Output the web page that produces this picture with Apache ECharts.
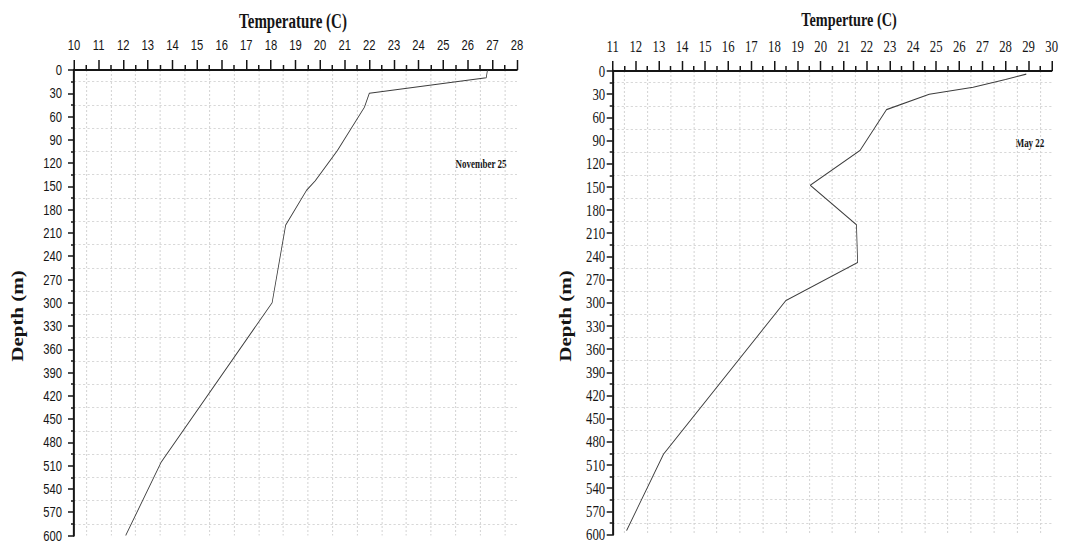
<!DOCTYPE html>
<html>
<head>
<meta charset="utf-8">
<script src="https://cdn.jsdelivr.net/npm/echarts@6/dist/echarts.min.js"></script>
<style>
  html, body { margin: 0; padding: 0; background: #fff; overflow: hidden; width: 1081px; height: 543px; }
  /* the figure is drawn wide and condensed horizontally, like the printed plot */
  #stage { position: absolute; left: 0; top: 0; width: 1442px; height: 543px; transform: scaleX(0.75); transform-origin: 0 0; }
</style>
</head>
<body>
<div id="stage"></div>
<script>
// November 25 temperature profile (temperature in C, depth in m)
const novTemp  = [26.8, 26.75, 22.0, 21.8, 20.7, 19.8, 19.45, 18.6, 18.05, 13.55, 12.1];
const novDepth = [0,    10,    30,   48,   104,  143,  155,   200,  300,   505,   600];

// May 22 temperature profile
const mayTemp  = [28.9, 28.0, 26.6, 24.7, 22.85, 21.7, 19.55, 21.55, 21.6, 18.5, 13.2, 11.6];
const mayDepth = [4,    11,   21,   30,   50,    103,  148,   199,   248,  297,  496,  595];

// axis ranges
const novTempRange = [10, 28];
const mayTempRange = [11, 30];
const depthRange   = [0, 600];
const depthStep    = 30;

// text
const novAxisTitle = 'Temperature (C)';
const mayAxisTitle = 'Temperture (C)';
const depthTitle   = 'Depth (m)';
const novTag = 'November 25';
const mayTag = 'May 22';

const K = 0.75; // horizontal condensation of the stage
const sx = v => v / K;

const SANS = '"Liberation Sans", Arial, sans-serif';
const SERIF = '"Liberation Serif", "Times New Roman", serif';
const INK = '#151515';

function tempAxis(gridIndex, range, font, size, margin) {
  return {
    type: 'value', gridIndex, position: 'top',
    min: range[0], max: range[1], interval: 1,
    axisLine: { show: true, onZero: false, lineStyle: { color: INK, width: 2 } },
    axisTick: { show: true, length: 10, lineStyle: { color: INK, width: 2 } },
    minorTick: { show: true, splitNumber: 2, length: 5, lineStyle: { color: INK, width: 2 } },
    splitLine: { show: false },
    minorSplitLine: { show: true, lineStyle: { color: '#d2d2d2', width: 1.33, type: [2, 2] } },
    axisLabel: { fontFamily: font, fontSize: size, color: INK, margin }
  };
}

function depthAxis(gridIndex, font, size, margin) {
  return {
    type: 'value', gridIndex, inverse: true,
    min: depthRange[0], max: depthRange[1], interval: depthStep,
    axisLine: { show: true, onZero: false, lineStyle: { color: INK, width: 2.67 } },
    axisTick: { show: true, length: 8, lineStyle: { color: INK, width: 1.5 } },
    minorTick: { show: true, splitNumber: 2, length: 4, lineStyle: { color: INK, width: 1.5 } },
    splitLine: { show: false },
    minorSplitLine: { show: true, lineStyle: { color: '#d2d2d2', width: 1, type: [3, 3] } },
    axisLabel: { fontFamily: font, fontSize: size, color: INK, margin }
  };
}

function profile(i, temps, depths) {
  return {
    type: 'line', xAxisIndex: i, yAxisIndex: i,
    data: temps.map((t, k) => [t, depths[k]]),
    showSymbol: false, silent: true,
    lineStyle: { color: '#3c3c3c', width: 1.1 }
  };
}

function label(x, y, text, font, rot) {
  return {
    type: 'text', x: sx(x), y, rotation: rot || 0, silent: true,
    style: { text, font, fill: INK, align: 'center', verticalAlign: 'middle',
             textAlign: 'center', textVerticalAlign: 'middle' }
  };
}

const chart = echarts.init(document.getElementById('stage'), null, { renderer: 'svg' });
chart.setOption({
  animation: false,
  backgroundColor: '#fff',
  grid: [
    { left: sx(74), top: 70, width: sx(443), height: 466 },
    { left: sx(612.7), top: 71, width: sx(439), height: 466 }
  ],
  xAxis: [
    tempAxis(0, novTempRange, SANS, 15, 18),
    tempAxis(1, mayTempRange, SERIF, 17, 16)
  ],
  yAxis: [
    depthAxis(0, SANS, 15, 16),
    depthAxis(1, SERIF, 17, 10)
  ],
  series: [
    profile(0, novTemp, novDepth),
    profile(1, mayTemp, mayDepth)
  ],
  graphic: [
    label(293, 21, novAxisTitle, 'bold 20px ' + SERIF),
    label(849, 20, mayAxisTitle, 'bold 19px ' + SERIF),
    label(17.5, 316, depthTitle, 'bold 21px ' + SERIF, Math.PI / 2),
    label(565, 316, depthTitle, 'bold 21px ' + SERIF, Math.PI / 2),
    label(481, 164, novTag, 'bold 12px ' + SERIF),
    label(1030, 143, mayTag, 'bold 12px ' + SERIF)
  ]
});
</script>
</body>
</html>
